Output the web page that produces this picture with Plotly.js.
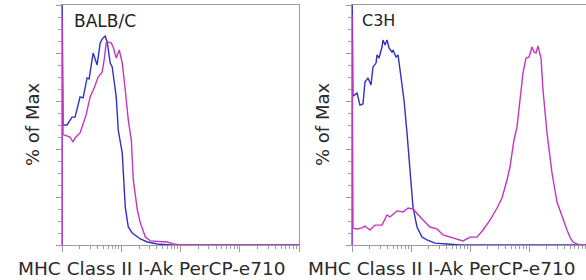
<!DOCTYPE html>
<html>
<head>
<meta charset="utf-8">
<script src="https://cdn.plot.ly/plotly-3.0.1.min.js"></script>
<style>
html,body{margin:0;padding:0;overflow:hidden;background:#fff;}
#chart{width:590px;height:280px;}
</style>
</head>
<body>
<div id="chart"></div>
<script>
// ---- data (fluorescence intensity vs % of Max) ----
const panelTitles = ["BALB/C", "C3H"];
const xLabel = "MHC Class II I-Ak PerCP-e710";
const yLabel = "% of Max";

// BALB/C - blue
const balbBlueX = [10, 10, 10.4, 12.15, 14.77, 16.61, 20.19, 22.7, 26.53, 28.69, 33.54, 39.2, 44.08, 47.65, 53.56, 57.91, 65.1, 70.4, 82.3, 88.97, 103.97, 116.9, 131.4, 153.6, 209.9, 275.9, 407.5, 676.9, 100000];
const balbBlueY = [0, 110, 50, 50, 53.3, 53.3, 61.7, 61.3, 69.6, 69.2, 80, 75, 84.2, 85.8, 87.1, 84.6, 75.8, 74.2, 61.7, 47.9, 38.3, 15.8, 7.5, 5, 2.5, 1.25, 0.4, 0, 0];
// BALB/C - magenta
const balbMagX = [10, 10, 10.4, 11.24, 13.66, 15.36, 16.61, 20.19, 25.52, 29.83, 34.87, 40.75, 47.65, 51.51, 55.69, 57.91, 67.67, 73.17, 82.3, 92.49, 103.97, 116.9, 131.4, 147.8, 159.8, 186.7, 209.9, 255.2, 310.1, 602.1, 761.0, 1000, 100000];
const balbMagY = [0, 96, 46, 45.8, 45, 42.9, 44.6, 46.7, 54.2, 61.7, 65.4, 70, 72.1, 77.1, 84.2, 84.6, 84.2, 82.5, 77.9, 81.25, 75.8, 64.6, 52.1, 43.75, 27.1, 14.6, 9.2, 3.3, 1.7, 1.25, 0.4, 0, 0];

// C3H - blue
const c3hBlueX = [10, 10, 10.4, 11.24, 12.15, 13.66, 15.36, 16.61, 18.67, 20.99, 22.7, 25.52, 26.53, 28.69, 32.26, 33.54, 36.26, 39.2, 42.39, 47.65, 49.54, 55.69, 60.21, 67.67, 76.1, 85.55, 96.18, 108.1, 126.4, 153.6, 186.7, 255.2, 407.5, 676.9, 100000];
const c3hBlueY = [0, 110, 62, 62.5, 63.3, 58.3, 58.75, 67.9, 69.6, 66.7, 74.2, 75.8, 79.2, 77.9, 82.5, 85.4, 83.3, 85.4, 82.1, 80.4, 81.25, 78.3, 79.2, 70, 60.4, 46.7, 30, 15.8, 7.5, 3.3, 2.1, 0.8, 0.4, 0, 0];
// C3H - magenta
const c3hMagX = [10, 10, 10.4, 12.15, 14.77, 16.61, 20.19, 24.54, 32.26, 39.2, 44.08, 57.91, 73.17, 88.97, 108.1, 131.4, 159.8, 209.9, 275.9, 348.7, 458.1, 602.1, 761.0, 1000, 1314, 1661, 2183, 2869, 3487, 4238, 4764, 5569, 6261, 7040, 7914, 8897, 10000, 11240, 12150, 13140, 14210, 15980, 17270, 20190, 24540, 29830, 36260, 44080, 49540, 55690, 65100, 73170, 100000];
const c3hMagY = [0, 96, 7, 6.7, 7.1, 7.9, 6.25, 8.3, 8.3, 12.5, 11.7, 14.2, 13.75, 15.4, 15, 12.5, 10.4, 7.5, 6.7, 4.2, 3.3, 2.5, 1.7, 3.3, 3.3, 6.25, 10.4, 15.4, 19.6, 27.1, 32.5, 43.75, 49.2, 60.4, 71.7, 77.9, 78.3, 82.5, 80.4, 80, 82.9, 77.9, 64.6, 46.7, 30, 17.9, 11.7, 6.25, 3.3, 1.25, 0.4, 0, 0];

const blue = "#3030c4";
const magenta = "#c236c2";
const W = 590, H = 280;

function line(x, y, color, xa, ya) {
  return {x: x, y: y, type: "scatter", mode: "lines", xaxis: xa, yaxis: ya,
          line: {color: color, width: 1.4}, hoverinfo: "skip", showlegend: false};
}

const traces = [
  line(balbBlueX, balbBlueY, blue, "x", "y"),
  line(balbMagX, balbMagY, magenta, "x", "y"),
  line(c3hBlueX, c3hBlueY, blue, "x2", "y2"),
  line(c3hMagX, c3hMagY, magenta, "x2", "y2")
];

const axCol = "#9a9a9a";
function xax(dom, anchor) {
  return {type: "log", domain: dom, anchor: anchor, range: [1, 5], dtick: 1,
          showticklabels: false, showgrid: false, zeroline: false,
          showline: true, linecolor: axCol, linewidth: 1, mirror: true,
          ticks: "outside", ticklen: 6, tickcolor: axCol, tickwidth: 1,
          minor: {dtick: "D1", ticks: "outside", ticklen: 3, tickcolor: axCol, showgrid: false}};
}
function yax(anchor) {
  return {domain: [35 / H, 1 - 5 / H], anchor: anchor, range: [0, 100], dtick: 20,
          showticklabels: false, showgrid: false, zeroline: false,
          showline: true, linecolor: axCol, linewidth: 1, mirror: true,
          ticks: "outside", ticklen: 5, tickcolor: axCol, tickwidth: 1,
          minor: {dtick: 5, ticks: "outside", ticklen: 3, tickcolor: axCol, showgrid: false}};
}

const fontFam = "DejaVu Sans, Verdana, sans-serif";
const annotations = [
  {text: panelTitles[0], x: 72 / W, y: 1 - 21 / H, xref: "paper", yref: "paper", xanchor: "left", yanchor: "middle", showarrow: false, font: {family: fontFam, size: 17, color: "#222"}},
  {text: panelTitles[1], x: 360 / W, y: 1 - 21 / H, xref: "paper", yref: "paper", xanchor: "left", yanchor: "middle", showarrow: false, font: {family: fontFam, size: 16, color: "#222"}},
  {text: xLabel, x: 151.5 / W, y: 1 - 268 / H, xref: "paper", yref: "paper", xanchor: "center", yanchor: "middle", showarrow: false, font: {family: fontFam, size: 18.5, color: "#2a2a2a"}},
  {text: xLabel, x: 441.5 / W, y: 1 - 268 / H, xref: "paper", yref: "paper", xanchor: "center", yanchor: "middle", showarrow: false, font: {family: fontFam, size: 18.5, color: "#2a2a2a"}},
  {text: yLabel, x: 33 / W, y: 1 - 125 / H, xref: "paper", yref: "paper", xanchor: "center", yanchor: "middle", textangle: -90, showarrow: false, font: {family: fontFam, size: 18, color: "#2a2a2a"}},
  {text: yLabel, x: 323 / W, y: 1 - 125 / H, xref: "paper", yref: "paper", xanchor: "center", yanchor: "middle", textangle: -90, showarrow: false, font: {family: fontFam, size: 18, color: "#2a2a2a"}}
];

const layout = {
  width: W, height: H,
  margin: {l: 0, r: 0, t: 0, b: 0},
  paper_bgcolor: "#fff", plot_bgcolor: "#fff",
  showlegend: false,
  xaxis: xax([62 / W, 299 / W], "y"),
  yaxis: yax("x"),
  xaxis2: xax([352 / W, 588 / W], "y2"),
  yaxis2: yax("x2"),
  annotations: annotations
};

Plotly.newPlot("chart", traces, layout, {staticPlot: true, displayModeBar: false});
</script>
</body>
</html>
